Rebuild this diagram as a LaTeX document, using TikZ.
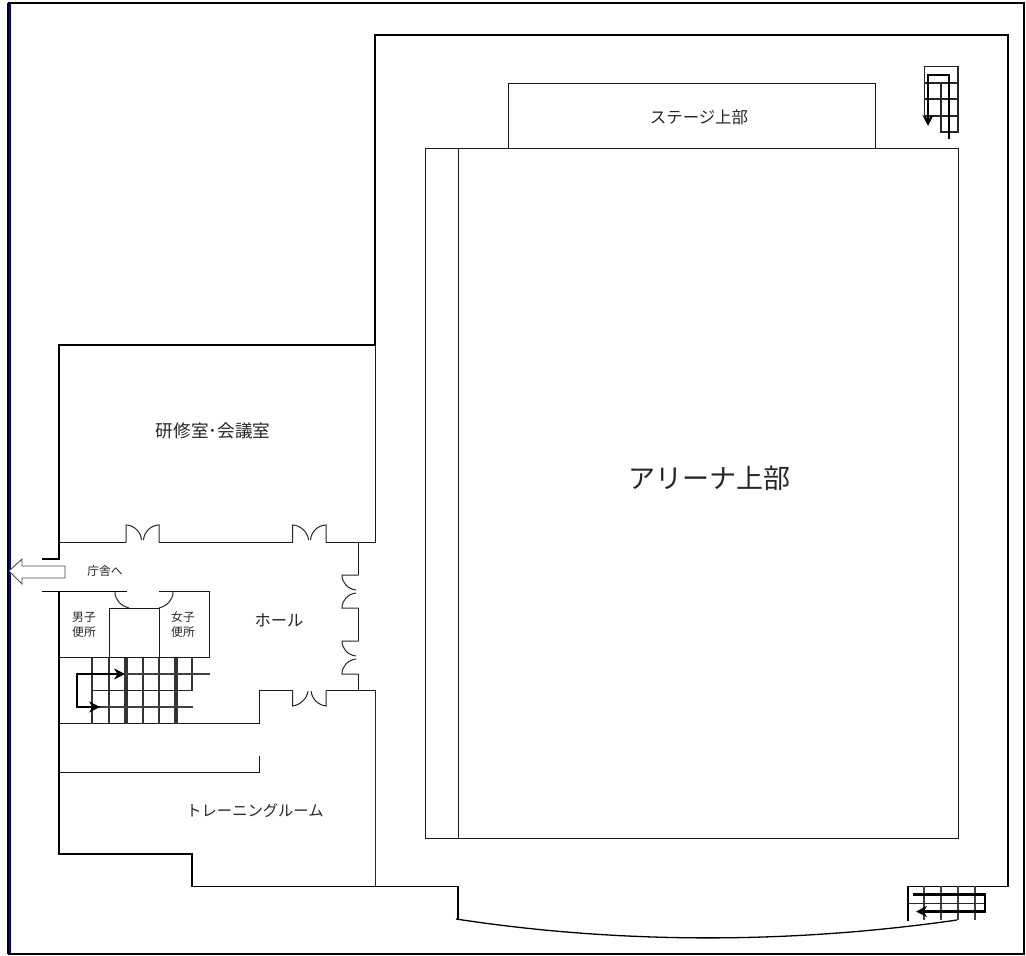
\documentclass[tikz,border=0pt]{standalone}
\usepackage{fontspec}
\setmainfont{Noto Sans CJK JP}
\usetikzlibrary{arrows.meta}
\tikzset{
 wall/.style={line width=1.6pt,black},
 thin wall/.style={line width=1.05pt,black!90},
 hair/.style={line width=1pt,black!85},
 door/.style={line width=1pt,black!85},
 run/.style={line width=2pt,black!75},
 flow/.style={line width=2.2pt,black,-{Stealth[length=11pt,width=11pt]}},
 label/.style={inner sep=0pt,text=black!85}
}
\begin{document}
\begin{tikzpicture}[x=1pt,y=-1pt]
\useasboundingbox (0,0) rectangle (1026,956);
% frame
\draw[line width=1.6pt] (8,3) -- (1024,3) -- (1024,953.8) -- (8,953.8);
\draw[line width=1.4pt] (8,3) -- (8,953.8);
\draw[line width=2.2pt,blue!70!black] (9.8,3) -- (9.8,953);
% outer walls
\draw[wall] (42,559) -- (59,559) -- (59,345) -- (375,345) -- (375,35) -- (1008,35) -- (1008,886.5) -- (908,886.5) -- (908,921);
\draw[wall] (42,591.5) -- (127,591.5);
\draw[wall] (59,591.5) -- (59,854) -- (192,854) -- (192,886.5) -- (459,886.5);
\draw[wall] (458,886.5) -- (458,920);
\draw[line width=1.3pt] (456,919) .. controls (620,944) and (790,944) .. (957,920);
% corridor north wall
\draw[thin wall] (59,542.5) -- (126,542.5) (159,542.5) -- (292.5,542.5) (326,542.5) -- (375.5,542.5) (375.5,345) -- (375.5,542.5);
% north doors
\draw[door] (126,542.5) -- (126,525) .. controls (134,525) and (141,532) .. (141.5,540);
\draw[door] (159,542.5) -- (159,525) .. controls (151,525) and (144,532) .. (143.5,540);
\draw[door] (292.5,542.5) -- (292.5,525) .. controls (300,525) and (308,532) .. (308.5,540);
\draw[door] (326,542.5) -- (326,525) .. controls (318,525) and (311,532) .. (310.5,540);
% east hall wall
\draw[thin wall] (358.5,542.5) -- (358.5,575) (358.5,608) -- (358.5,641) (358.5,674) -- (358.5,690.5);
\draw[door] (358.5,575) -- (342,575) .. controls (342,583) and (348,589) .. (356,590);
\draw[door] (358.5,608) -- (342,608) .. controls (342,600) and (348,594) .. (356,593);
\draw[door] (358.5,641) -- (342,641) .. controls (342,649) and (348,655) .. (356,656);
\draw[door] (358.5,674) -- (342,674) .. controls (342,666) and (348,660) .. (356,659);
% south hall wall
\draw[thin wall] (375.5,690.5) -- (326,690.5) (292.5,690.5) -- (259.5,690.5) -- (259.5,723.5) -- (59,723.5);
\draw[door] (292.5,690.5) -- (292.5,706) .. controls (300,705) and (307,699) .. (308,691);
\draw[door] (326,690.5) -- (326,706) .. controls (318,705) and (312,699) .. (311,691);
\draw[hair] (375.5,690.5) -- (375.5,886);
\draw[thin wall] (60,772.5) -- (259.5,772.5) -- (259.5,756);
% toilets
\draw[thin wall] (159,591.5) -- (209.5,591.5) -- (209.5,657.5) -- (59,657.5);
\draw[thin wall] (109.5,657.5) -- (109.5,608.5) -- (159.5,608.5) -- (159.5,657.5);
\draw[door] (115,592) .. controls (115,600) and (121,606) .. (129,608);
\draw[door] (173,592) .. controls (173,600) and (167,606) .. (159,608);
% main stairs
\foreach \x/\w in {92/2.8,109/2.8,126/3.2,143/2.8,159/2.8,176/3.2}
  \draw[line width=\w pt,black!80] (\x,657.5) -- (\x,723.5);
\draw[line width=2.8pt,black!80] (192,657.5) -- (192,690.5);
\draw[run] (100,674) -- (210,674);
\draw[hair] (93,690.5) -- (192,690.5);
\draw[run] (90,707) -- (193,707);
\draw[flow] (100,707) -- (77,707) -- (77,674) -- (125,674);
\draw[flow] (77,707) -- (100,707);
% arrow to office
\draw[line width=0.9pt,black!70,fill=white] (9,571) -- (22,559) -- (22,566) -- (65,566) -- (65,578) -- (22,578) -- (22,584) -- cycle;
% arena
\draw[thin wall] (425.5,148.5) rectangle (958.5,838.5);
\draw[thin wall] (458.5,148.5) -- (458.5,838.5);
\draw[thin wall] (508.5,148.5) -- (508.5,83.5) -- (875.5,83.5) -- (875.5,148.5);
% NE stairs
\draw[line width=1.6pt,black!85] (924.5,116) -- (924.5,66.5) -- (958,66.5) -- (958,132) -- (941,132) -- (941,83);
\foreach \y in {83,99,116}
  \draw[line width=1.6pt,black!85] (924.5,\y) -- (958,\y);
\draw[line width=2.2pt,-{Stealth[length=11pt,width=11pt]}] (949,139) -- (949,75) -- (928,75) -- (928,126);
% SE stairs
\foreach \x in {924,941,958,975}
  \draw[line width=2.6pt,black!75] (\x,886) -- (\x,920);
\draw[hair] (908,903.5) -- (985,903.5);
\draw[line width=2.2pt,-{Stealth[length=11pt,width=11pt]}] (913,894.5) -- (985,894.5) -- (985,911.5) -- (916,911.5);
% labels
\node[label,font=\fontsize{27}{27}\selectfont] (arena) at (709,478) {アリーナ上部};
\node[label,font=\fontsize{16.4}{17}\selectfont] (stage) at (699,117) {ステージ上部};
\node[label,font=\fontsize{17.6}{18}\selectfont] (kenshu) at (213,431) {研修室･会議室};
\node[label,font=\fontsize{16.3}{17}\selectfont] (hall) at (279,620) {ホール};
\node[label,font=\fontsize{15.3}{16}\selectfont] (tr) at (255,811) {トレーニングルーム};
\node[label,font=\fontsize{11.8}{12}\selectfont] (chosha) at (105,571) {庁舎へ};
\node[label,font=\fontsize{11.8}{15}\selectfont,align=center] (men) at (84,624.5) {男子\\便所};
\node[label,font=\fontsize{11.8}{15}\selectfont,align=center] (women) at (183,624.5) {女子\\便所};
\end{tikzpicture}
\end{document}
